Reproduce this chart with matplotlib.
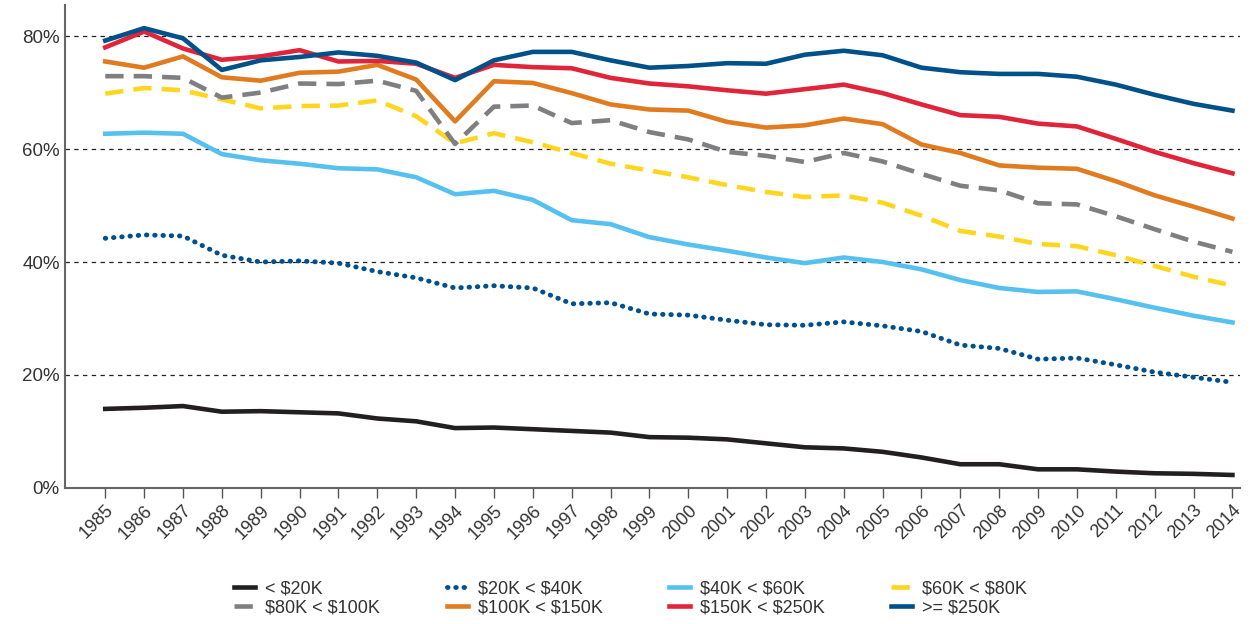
import numpy as np
import matplotlib
matplotlib.use("Agg")
import matplotlib.pyplot as plt
from matplotlib.ticker import FuncFormatter

plt.rcParams['font.family'] = ['Liberation Sans', 'DejaVu Sans']
plt.rcParams['text.parse_math'] = False

years = list(range(1985, 2015))

lt20 = [14.0, 14.2, 14.5, 13.5, 13.6, 13.4, 13.2, 12.3, 11.8, 10.6,
        10.7, 10.4, 10.1, 9.8, 9.0, 8.9, 8.6, 7.9, 7.2, 7.0,
        6.4, 5.4, 4.2, 4.2, 3.3, 3.3, 2.9, 2.6, 2.5, 2.3]
k20_40 = [44.2, 44.8, 44.6, 41.2, 40.0, 40.2, 39.8, 38.3, 37.2, 35.4,
          35.8, 35.4, 32.6, 32.8, 30.8, 30.6, 29.7, 28.9, 28.8, 29.4,
          28.7, 27.7, 25.3, 24.7, 22.8, 23.0, 21.8, 20.5, 19.6, 18.7]
k40_60 = [62.7, 62.9, 62.7, 59.1, 58.0, 57.4, 56.6, 56.4, 55.0, 52.0,
          52.6, 51.0, 47.4, 46.7, 44.4, 43.1, 42.0, 40.8, 39.8, 40.8,
          40.0, 38.7, 36.8, 35.4, 34.7, 34.8, 33.4, 31.9, 30.5, 29.3]
k60_80 = [69.8, 70.8, 70.4, 68.8, 67.2, 67.6, 67.7, 68.6, 65.8, 61.0,
          62.8, 61.2, 59.3, 57.4, 56.2, 55.0, 53.6, 52.4, 51.5, 51.8,
          50.5, 48.2, 45.5, 44.5, 43.2, 42.8, 41.2, 39.3, 37.4, 35.8]
k80_100 = [72.9, 72.9, 72.6, 69.1, 70.0, 71.6, 71.5, 72.1, 70.3, 60.9,
           67.5, 67.7, 64.6, 65.1, 63.0, 61.7, 59.5, 58.8, 57.7, 59.3,
           57.8, 55.6, 53.5, 52.7, 50.4, 50.2, 48.1, 45.8, 43.6, 41.8]
k100_150 = [75.5, 74.4, 76.4, 72.7, 72.1, 73.5, 73.7, 74.9, 72.3, 64.9,
            72.0, 71.7, 69.9, 67.9, 67.0, 66.8, 64.8, 63.8, 64.2, 65.4,
            64.4, 60.8, 59.3, 57.1, 56.7, 56.5, 54.3, 51.8, 49.8, 47.7]
k150_250 = [78.0, 80.8, 77.8, 75.8, 76.4, 77.5, 75.5, 75.6, 75.1, 72.6,
            74.9, 74.5, 74.3, 72.6, 71.6, 71.1, 70.4, 69.8, 70.6, 71.4,
            69.9, 67.9, 66.0, 65.7, 64.5, 64.0, 61.8, 59.5, 57.5, 55.7]
ge250 = [79.2, 81.4, 79.6, 74.0, 75.7, 76.3, 77.1, 76.5, 75.3, 72.2,
         75.7, 77.2, 77.2, 75.7, 74.4, 74.7, 75.2, 75.1, 76.7, 77.4,
         76.6, 74.4, 73.6, 73.3, 73.3, 72.8, 71.4, 69.6, 68.0, 66.8]

labels = ['< $20K', '$20K < $40K', '$40K < $60K', '$60K < $80K',
          '$80K < $100K', '$100K < $150K', '$150K < $250K', '>= $250K']

fig = plt.figure(figsize=(12.54, 6.24), dpi=100)
ax = fig.add_axes([0.052, 0.218, 0.937, 0.774])

lw = 3.3
ax.plot(years, lt20, color='#231f20', lw=lw, label=labels[0])
ax.plot(years, k20_40, color='#00508f', lw=3.5, linestyle=(0, (0.1, 1.6)),
        dash_capstyle='round', label=labels[1])
ax.plot(years, k40_60, color='#56c1ef', lw=lw, label=labels[2])
ax.plot(years, k60_80, color='#ffd61f', lw=lw, linestyle=(0, (4, 2.2)), label=labels[3])
ax.plot(years, k80_100, color='#7f7f81', lw=lw, linestyle=(0, (4, 2.2)), label=labels[4])
ax.plot(years, k100_150, color='#e07b1f', lw=lw, label=labels[5])
ax.plot(years, k150_250, color='#e0243a', lw=lw, label=labels[6])
ax.plot(years, ge250, color='#00508a', lw=lw, label=labels[7])

ax.set_xlim(1983.97, 2014.2)
ax.set_ylim(0, 85.5)
ax.set_xticks(years)
ax.set_xticklabels([str(y) for y in years], rotation=45, ha='right',
                   rotation_mode='anchor', fontsize=13)
ax.set_yticks([0, 20, 40, 60, 80])
ax.yaxis.set_major_formatter(FuncFormatter(lambda v, p: '%d%%' % v))
ax.tick_params(axis='y', length=0, labelsize=13.5, pad=4, colors='#333333')
ax.tick_params(axis='x', length=7, width=1, color='#555555', pad=3, labelcolor='#333333')

for v in [20, 40, 60, 80]:
    ax.axhline(v, color='#222222', lw=0.9, linestyle=(0, (3.5, 3.5)), zorder=0)

for s in ['top', 'right']:
    ax.spines[s].set_visible(False)
for s in ['left', 'bottom']:
    ax.spines[s].set_color('#666666')
    ax.spines[s].set_linewidth(1.5)

handles, labs = ax.get_legend_handles_labels()
order = [0, 4, 1, 5, 2, 6, 3, 7]
fig.legend([handles[i] for i in order], [labs[i] for i in order],
           loc='center', bbox_to_anchor=(0.503, 0.041), ncol=4, frameon=False,
           fontsize=13, handlelength=1.15, columnspacing=3.7, labelspacing=0.15,
           handletextpad=0.55, labelcolor='#333333')

fig.savefig('out.png', dpi=100)
